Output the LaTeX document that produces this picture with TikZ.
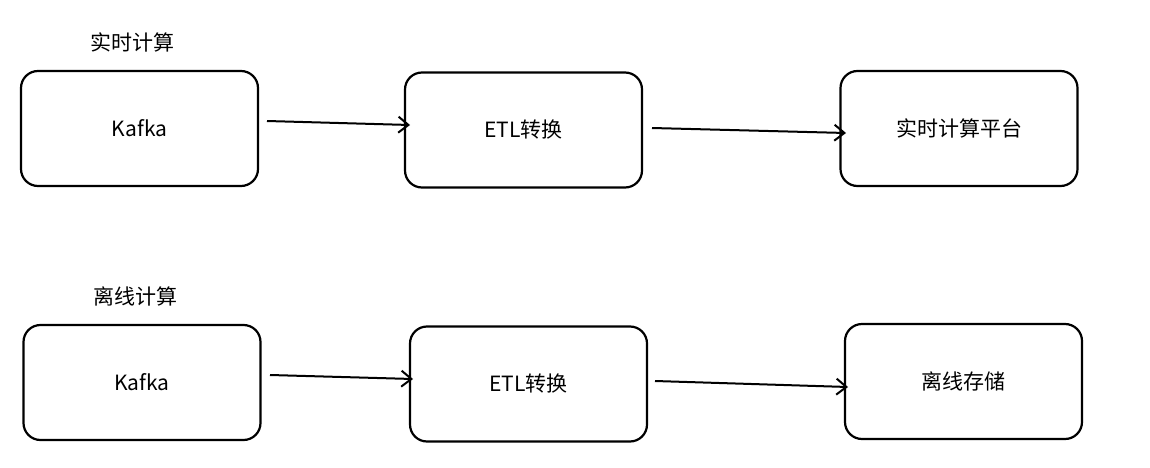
\documentclass[tikz,border=0pt]{standalone}
\usepackage{fontspec}
\setmainfont{Noto Sans CJK SC}
\usetikzlibrary{arrows.meta}
\begin{document}
\begin{tikzpicture}[x=1pt,y=-1pt,
  box/.style={draw,line width=2.2pt,rounded corners=17pt,minimum width=237pt,minimum height=115pt,font=\fontsize{21}{24}\selectfont},
  lbl/.style={font=\fontsize{21}{24}\selectfont},
  arr/.style={line width=2pt,-{Straight Barb[length=10pt,width=16pt,line width=2pt]}}]
\useasboundingbox (0,0) rectangle (1150,468);
\node[lbl] (t1) at (132,42) {实时计算};
\node[lbl] (t2) at (135,296) {离线计算};
\node[box] (k1) at (139.5,128.5) {Kafka};
\node[box] (e1) at (523.5,130) {ETL转换};
\node[box] (r1) at (959,128.5) {实时计算平台};
\node[box] (k2) at (142,382.5) {Kafka};
\node[box] (e2) at (528.5,384) {ETL转换};
\node[box] (r2) at (963.5,381.5) {离线存储};
\coordinate (a1s) at (267,121); \coordinate (a1e) at (410,125);
\coordinate (a2s) at (652,128); \coordinate (a2e) at (846,133);
\coordinate (a3s) at (270,375); \coordinate (a3e) at (413,379);
\coordinate (a4s) at (655,381); \coordinate (a4e) at (848,387);
\draw[arr] (a1s) -- (a1e);
\draw[arr] (a2s) -- (a2e);
\draw[arr] (a3s) -- (a3e);
\draw[arr] (a4s) -- (a4e);
\end{tikzpicture}
\end{document}
